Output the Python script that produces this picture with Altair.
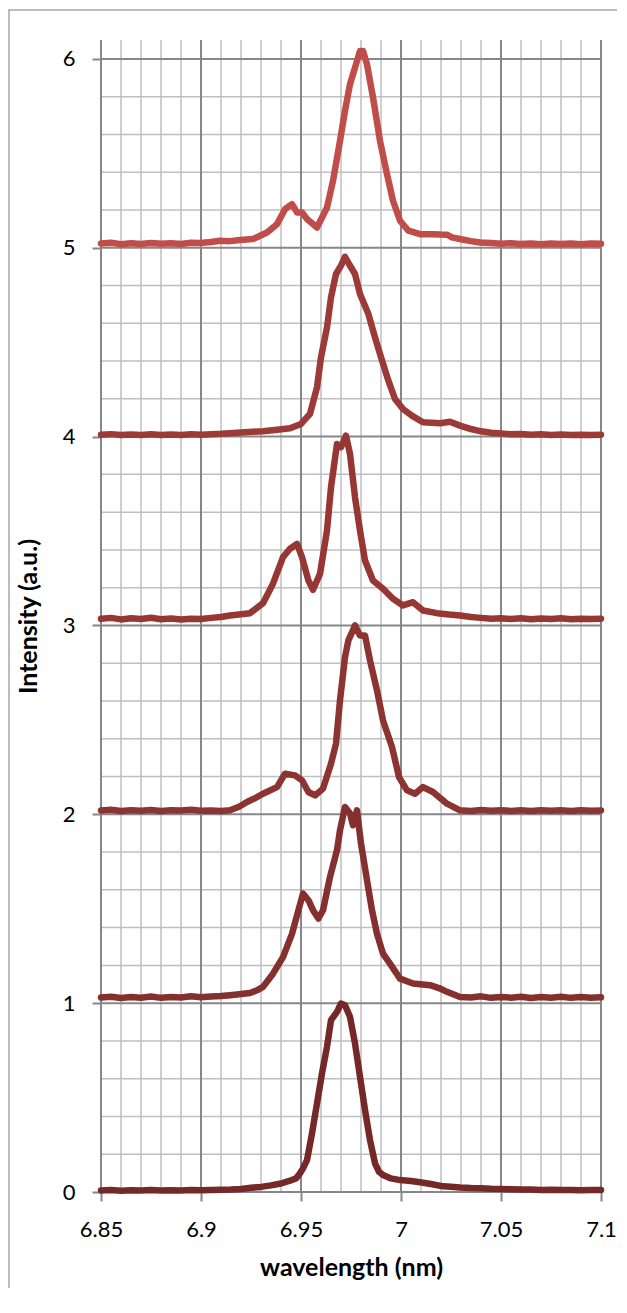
import altair as alt
import pandas as pd

# ---- data ----
S0 = [(6.850,0.008),(6.855,0.010),(6.860,0.007),(6.865,0.009),(6.870,0.008),(6.875,0.010),(6.880,0.008),
      (6.885,0.009),(6.890,0.008),(6.895,0.010),(6.900,0.009),(6.905,0.011),(6.910,0.012),(6.915,0.013),
      (6.920,0.016),(6.925,0.022),(6.930,0.027),(6.935,0.035),(6.940,0.045),(6.9445,0.060),(6.9475,0.072),
      (6.9495,0.099),(6.951,0.125),(6.953,0.169),(6.9555,0.310),(6.958,0.469),(6.9605,0.628),(6.963,0.769),
      (6.965,0.910),(6.968,0.954),(6.970,0.998),(6.972,0.989),(6.9745,0.928),(6.977,0.787),(6.9795,0.610),
      (6.982,0.434),(6.9845,0.275),(6.987,0.152),(6.989,0.107),(6.991,0.090),(6.995,0.072),(6.9995,0.063),
      (7.005,0.058),(7.0095,0.052),(7.015,0.042),(7.021,0.030),(7.025,0.028),(7.0295,0.024),(7.035,0.021),
      (7.040,0.020),(7.045,0.017),(7.050,0.016),(7.055,0.014),(7.060,0.013),(7.065,0.013),(7.070,0.011),
      (7.075,0.012),(7.080,0.010),(7.085,0.011),(7.090,0.009),(7.095,0.010),(7.100,0.010)]

S1 = [(6.850,1.030),(6.855,1.034),(6.860,1.027),(6.865,1.033),(6.870,1.029),(6.875,1.035),(6.880,1.028),
      (6.885,1.033),(6.890,1.030),(6.895,1.036),(6.900,1.031),(6.905,1.035),(6.910,1.038),(6.9145,1.042),
      (6.920,1.048),(6.9245,1.054),(6.928,1.068),(6.931,1.086),(6.936,1.156),(6.941,1.244),(6.9455,1.367),
      (6.9487,1.492),(6.951,1.580),(6.9537,1.545),(6.956,1.492),(6.9587,1.448),(6.961,1.492),(6.9645,1.668),
      (6.968,1.810),(6.9695,1.915),(6.972,2.039),(6.9745,2.004),(6.976,1.942),(6.978,2.021),(6.980,1.845),
      (6.983,1.651),(6.9855,1.492),(6.988,1.367),(6.991,1.262),(6.9945,1.209),(6.9995,1.130),(7.006,1.104),
      (7.0145,1.095),(7.019,1.080),(7.023,1.060),(7.0295,1.033),(7.035,1.030),(7.040,1.036),(7.045,1.028),
      (7.050,1.033),(7.055,1.029),(7.060,1.034),(7.065,1.027),(7.070,1.032),(7.075,1.029),(7.080,1.034),
      (7.085,1.028),(7.090,1.032),(7.095,1.029),(7.100,1.031)]

S2 = [(6.850,2.020),(6.855,2.024),(6.860,2.018),(6.865,2.022),(6.870,2.019),(6.875,2.023),(6.880,2.018),
      (6.885,2.022),(6.890,2.020),(6.895,2.024),(6.900,2.019),(6.905,2.020),(6.910,2.018),(6.9145,2.021),
      (6.919,2.040),(6.923,2.065),(6.927,2.085),(6.931,2.109),(6.938,2.144),(6.942,2.215),(6.947,2.206),
      (6.9505,2.180),(6.9537,2.118),(6.957,2.100),(6.961,2.136),(6.965,2.268),(6.9675,2.374),(6.9695,2.603),
      (6.972,2.832),(6.9737,2.921),(6.977,3.000),(6.9795,2.947),(6.982,2.947),(6.9845,2.815),(6.988,2.656),
      (6.991,2.497),(6.9955,2.356),(6.999,2.197),(7.003,2.127),(7.007,2.109),(7.011,2.144),(7.016,2.118),
      (7.023,2.056),(7.0295,2.021),(7.035,2.018),(7.040,2.023),(7.045,2.019),(7.050,2.022),(7.055,2.018),
      (7.060,2.021),(7.065,2.017),(7.070,2.022),(7.075,2.019),(7.080,2.021),(7.085,2.018),(7.090,2.022),
      (7.095,2.019),(7.100,2.020)]

S3 = [(6.850,3.035),(6.855,3.040),(6.860,3.032),(6.865,3.038),(6.870,3.034),(6.875,3.041),(6.880,3.033),
      (6.885,3.037),(6.890,3.032),(6.895,3.036),(6.900,3.034),(6.905,3.040),(6.910,3.045),(6.9145,3.053),
      (6.9245,3.065),(6.931,3.118),(6.936,3.221),(6.941,3.362),(6.9445,3.406),(6.948,3.432),(6.9505,3.362),
      (6.9537,3.238),(6.956,3.189),(6.9595,3.273),(6.963,3.503),(6.965,3.732),(6.968,3.961),(6.970,3.944),
      (6.9725,4.005),(6.9745,3.908),(6.977,3.679),(6.9795,3.503),(6.982,3.344),(6.986,3.238),(6.991,3.194),
      (6.996,3.141),(7.001,3.106),(7.006,3.123),(7.011,3.079),(7.018,3.065),(7.024,3.058),(7.0295,3.053),
      (7.035,3.045),(7.040,3.040),(7.045,3.036),(7.050,3.038),(7.055,3.034),(7.060,3.038),(7.065,3.033),
      (7.070,3.037),(7.075,3.034),(7.080,3.038),(7.085,3.033),(7.090,3.036),(7.095,3.034),(7.100,3.036)]

S4 = [(6.850,4.010),(6.855,4.013),(6.860,4.008),(6.865,4.011),(6.870,4.009),(6.875,4.012),(6.880,4.008),
      (6.885,4.011),(6.890,4.009),(6.895,4.012),(6.900,4.010),(6.905,4.013),(6.910,4.015),(6.9145,4.018),
      (6.920,4.022),(6.926,4.026),(6.931,4.028),(6.938,4.036),(6.9445,4.044),(6.950,4.067),(6.9545,4.120),
      (6.958,4.261),(6.960,4.420),(6.963,4.578),(6.965,4.737),(6.9675,4.861),(6.970,4.905),(6.972,4.952),
      (6.974,4.914),(6.977,4.861),(6.9795,4.755),(6.9837,4.649),(6.987,4.525),(6.990,4.420),(6.9937,4.296),
      (6.997,4.199),(7.001,4.146),(7.0054,4.111),(7.011,4.076),(7.0195,4.071),(7.0245,4.079),(7.0295,4.058),
      (7.035,4.040),(7.040,4.028),(7.045,4.020),(7.050,4.016),(7.055,4.012),(7.060,4.014),(7.065,4.010),
      (7.070,4.012),(7.075,4.009),(7.080,4.011),(7.085,4.008),(7.090,4.010),(7.095,4.009),(7.100,4.010)]

S5 = [(6.850,5.022),(6.855,5.026),(6.860,5.019),(6.865,5.024),(6.870,5.020),(6.875,5.025),(6.880,5.021),
      (6.885,5.024),(6.890,5.020),(6.895,5.026),(6.8995,5.025),(6.905,5.030),(6.9095,5.037),(6.9145,5.035),
      (6.9195,5.041),(6.926,5.046),(6.933,5.081),(6.938,5.125),(6.942,5.204),(6.9455,5.231),(6.948,5.187),
      (6.9505,5.187),(6.953,5.152),(6.958,5.107),(6.963,5.213),(6.966,5.354),(6.9695,5.566),(6.972,5.725),
      (6.9745,5.866),(6.977,5.954),(6.9795,6.042),(6.981,6.042),(6.983,5.971),(6.986,5.796),(6.9895,5.566),
      (6.993,5.390),(6.996,5.249),(6.9995,5.143),(7.0037,5.090),(7.0095,5.072),(7.016,5.072),(7.0195,5.070),
      (7.023,5.069),(7.0255,5.055),(7.030,5.045),(7.035,5.035),(7.0395,5.028),(7.045,5.025),(7.050,5.021),
      (7.055,5.024),(7.0595,5.020),(7.065,5.023),(7.070,5.019),(7.075,5.022),(7.080,5.020),(7.085,5.023),
      (7.090,5.019),(7.095,5.022),(7.100,5.021)]

SERIES = ["s0", "s1", "s2", "s3", "s4", "s5"]
COLORS = ["#752828", "#84302E", "#8C3432", "#963734", "#9B3A37", "#C04D49"]

X_MAJOR = [6.85, 6.90, 6.95, 7.00, 7.05, 7.10]
X_MINOR = [6.86, 6.87, 6.88, 6.89, 6.91, 6.92, 6.93, 6.94, 6.96, 6.97, 6.98, 6.99,
           7.01, 7.02, 7.03, 7.04, 7.06, 7.07, 7.08, 7.09]
Y_MAJOR = [0, 1, 2, 3, 4, 5, 6]
Y_MINOR = [0.2, 0.4, 0.6, 0.8, 1.2, 1.4, 1.6, 1.8, 2.2, 2.4, 2.6, 2.8, 3.2, 3.4, 3.6, 3.8,
           4.2, 4.4, 4.6, 4.8, 5.2, 5.4, 5.6, 5.8]

rows = []
for name, pts in zip(SERIES, [S0, S1, S2, S3, S4, S5]):
    for i, (xv, yv) in enumerate(pts):
        rows.append({"x": xv, "y": yv, "series": name, "i": i})
df = pd.DataFrame(rows)

FONT = "Lato"
MAJOR = "#878787"
MINOR = "#BFBFBF"

xscale = alt.Scale(domain=[6.85, 7.1], nice=False, zero=False)
yscale = alt.Scale(domain=[0, 6.1], nice=False, zero=False)

xaxis = alt.Axis(values=X_MAJOR, format="~g", title="wavelength (nm)", grid=False, domain=False,
                 tickSize=9, tickColor=MAJOR, tickWidth=2, labelFont=FONT, labelFontSize=22,
                 labelColor="#000000", labelPadding=18, labelFlush=False, labelOverlap=False,
                 titleFont=FONT, titleFontSize=25, titleFontWeight="bold", titleColor="#000000",
                 titlePadding=15)
yaxis = alt.Axis(values=Y_MAJOR, format="d", title="Intensity (a.u.)", grid=False, domain=False,
                 tickSize=9, tickColor=MAJOR, tickWidth=2, labelFont=FONT, labelFontSize=22,
                 labelColor="#000000", labelPadding=17, labelFlush=False, labelOverlap=False,
                 titleFont=FONT, titleFontSize=25, titleFontWeight="bold", titleColor="#000000",
                 titlePadding=21)

X = alt.X("x:Q", scale=xscale, axis=xaxis)
Y = alt.Y("y:Q", scale=yscale, axis=yaxis)

vminor = alt.Chart(pd.DataFrame({"x": X_MINOR})).mark_rule(color=MINOR, strokeWidth=1.5).encode(x=X)
hminor = alt.Chart(pd.DataFrame({"y": Y_MINOR})).mark_rule(color=MINOR, strokeWidth=1.5).encode(y=Y)
vmajor = alt.Chart(pd.DataFrame({"x": X_MAJOR})).mark_rule(color=MAJOR, strokeWidth=2).encode(x=X)
hmajor = alt.Chart(pd.DataFrame({"y": Y_MAJOR})).mark_rule(color=MAJOR, strokeWidth=2).encode(y=Y)

lines = alt.Chart(df).mark_line(strokeWidth=6.5, strokeJoin="round", strokeCap="round").encode(
    x=X, y=Y,
    color=alt.Color("series:N", scale=alt.Scale(domain=SERIES, range=COLORS), legend=None),
    order="i:Q",
)

frame = alt.Chart(pd.DataFrame({"a": [0]})).mark_rect(filled=False, stroke="#A6A6A6", strokeWidth=1.5).encode(
    x=alt.value(-92), x2=alt.value(700), y=alt.value(-30), y2=alt.value(1300)
)

chart = alt.layer(vminor, hminor, vmajor, hmajor, lines, frame).properties(
    width=500, height=1152,
    autosize=alt.AutoSizeParams(type="none"),
    padding={"left": 93, "top": 32, "right": 16, "bottom": 96},
    background="white",
).configure_view(stroke="transparent")

chart.save("out.html", embed_options={"renderer": "svg", "actions": False})
